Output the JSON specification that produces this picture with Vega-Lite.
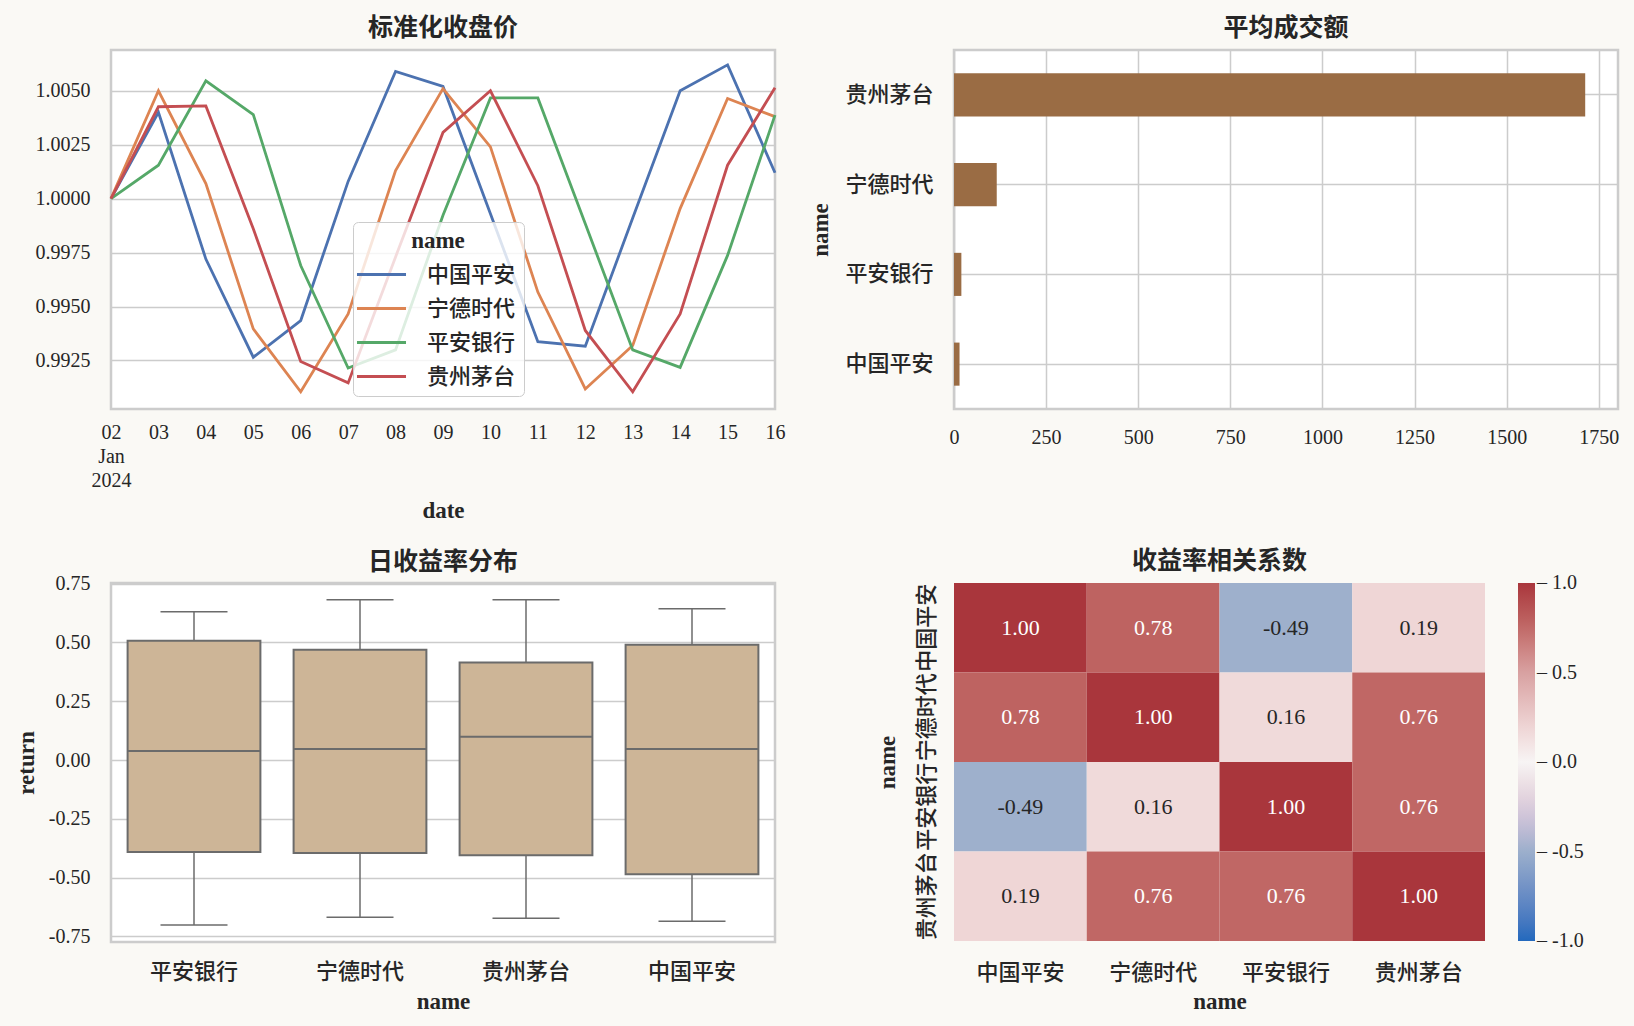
{
  "$schema": "https://vega.github.io/schema/vega-lite/v6.json",
  "background": "#FAF9F5",
  "padding": {"left": 13, "top": 14, "right": 17, "bottom": 13},
  "columns": 2,
  "bounds": "flush",
  "spacing": {"row": 174, "column": 179},
  "config": {
    "font": "'Liberation Serif', 'Noto Sans CJK SC', serif",
    "view": {"fill": "white", "stroke": "#cccccc", "strokeWidth": 2.5},
    "axis": {
      "domain": false,
      "ticks": false,
      "tickSize": 0,
      "grid": true,
      "gridColor": "#cccccc",
      "gridWidth": 1.5,
      "labelFontSize": 20,
      "labelFontWeight": 500,
      "labelColor": "#262626",
      "labelPadding": 21,
      "labelFlush": false,
      "labelAngle": 0,
      "titleFontSize": 23,
      "titleFontWeight": "bold",
      "titleColor": "#262626"
    },
    "title": {"fontSize": 25, "fontWeight": "bold", "color": "#262626", "offset": 9, "frame": "group"},
    "locale": {
      "number": {"decimal": ".", "thousands": ",", "grouping": [3], "currency": ["", ""], "minus": "-"}
    }
  },
  "datasets": {
    "close": [
      {"date": "2024-01-02", "name": "中国平安", "value": 1.0000},
      {"date": "2024-01-03", "name": "中国平安", "value": 1.0040},
      {"date": "2024-01-04", "name": "中国平安", "value": 0.9972},
      {"date": "2024-01-05", "name": "中国平安", "value": 0.99265},
      {"date": "2024-01-06", "name": "中国平安", "value": 0.99435},
      {"date": "2024-01-07", "name": "中国平安", "value": 1.0008},
      {"date": "2024-01-08", "name": "中国平安", "value": 1.0059},
      {"date": "2024-01-09", "name": "中国平安", "value": 1.0052},
      {"date": "2024-01-10", "name": "中国平安", "value": 0.9993},
      {"date": "2024-01-11", "name": "中国平安", "value": 0.99337},
      {"date": "2024-01-12", "name": "中国平安", "value": 0.99316},
      {"date": "2024-01-13", "name": "中国平安", "value": 0.9991},
      {"date": "2024-01-14", "name": "中国平安", "value": 1.0050},
      {"date": "2024-01-15", "name": "中国平安", "value": 1.0062},
      {"date": "2024-01-16", "name": "中国平安", "value": 1.0012},
      {"date": "2024-01-02", "name": "宁德时代", "value": 1.0000},
      {"date": "2024-01-03", "name": "宁德时代", "value": 1.0050},
      {"date": "2024-01-04", "name": "宁德时代", "value": 1.0007},
      {"date": "2024-01-05", "name": "宁德时代", "value": 0.99396},
      {"date": "2024-01-06", "name": "宁德时代", "value": 0.99105},
      {"date": "2024-01-07", "name": "宁德时代", "value": 0.99466},
      {"date": "2024-01-08", "name": "宁德时代", "value": 1.0013},
      {"date": "2024-01-09", "name": "宁德时代", "value": 1.0051},
      {"date": "2024-01-10", "name": "宁德时代", "value": 1.0024},
      {"date": "2024-01-11", "name": "宁德时代", "value": 0.99567},
      {"date": "2024-01-12", "name": "宁德时代", "value": 0.99118},
      {"date": "2024-01-13", "name": "宁德时代", "value": 0.99319},
      {"date": "2024-01-14", "name": "宁德时代", "value": 0.99954},
      {"date": "2024-01-15", "name": "宁德时代", "value": 1.00464},
      {"date": "2024-01-16", "name": "宁德时代", "value": 1.0038},
      {"date": "2024-01-02", "name": "平安银行", "value": 1.0000},
      {"date": "2024-01-03", "name": "平安银行", "value": 1.00155},
      {"date": "2024-01-04", "name": "平安银行", "value": 1.00546},
      {"date": "2024-01-05", "name": "平安银行", "value": 1.0039},
      {"date": "2024-01-06", "name": "平安银行", "value": 0.9969},
      {"date": "2024-01-07", "name": "平安银行", "value": 0.99215},
      {"date": "2024-01-08", "name": "平安银行", "value": 0.99299},
      {"date": "2024-01-09", "name": "平安银行", "value": 0.99923},
      {"date": "2024-01-10", "name": "平安银行", "value": 1.00467},
      {"date": "2024-01-11", "name": "平安银行", "value": 1.00467},
      {"date": "2024-01-12", "name": "平安银行", "value": 0.99884},
      {"date": "2024-01-13", "name": "平安银行", "value": 0.99299},
      {"date": "2024-01-14", "name": "平安银行", "value": 0.99218},
      {"date": "2024-01-15", "name": "平安银行", "value": 0.99737},
      {"date": "2024-01-16", "name": "平安银行", "value": 1.00387},
      {"date": "2024-01-02", "name": "贵州茅台", "value": 1.0000},
      {"date": "2024-01-03", "name": "贵州茅台", "value": 1.00426},
      {"date": "2024-01-04", "name": "贵州茅台", "value": 1.0043},
      {"date": "2024-01-05", "name": "贵州茅台", "value": 0.9986},
      {"date": "2024-01-06", "name": "贵州茅台", "value": 0.99245},
      {"date": "2024-01-07", "name": "贵州茅台", "value": 0.99146},
      {"date": "2024-01-08", "name": "贵州茅台", "value": 0.9973},
      {"date": "2024-01-09", "name": "贵州茅台", "value": 1.00307},
      {"date": "2024-01-10", "name": "贵州茅台", "value": 1.0050},
      {"date": "2024-01-11", "name": "贵州茅台", "value": 1.0006},
      {"date": "2024-01-12", "name": "贵州茅台", "value": 0.99389},
      {"date": "2024-01-13", "name": "贵州茅台", "value": 0.99105},
      {"date": "2024-01-14", "name": "贵州茅台", "value": 0.99466},
      {"date": "2024-01-15", "name": "贵州茅台", "value": 1.00155},
      {"date": "2024-01-16", "name": "贵州茅台", "value": 1.00514}
    ],
    "amount": [
      {"name": "贵州茅台", "amount": 1713},
      {"name": "宁德时代", "amount": 116},
      {"name": "平安银行", "amount": 20},
      {"name": "中国平安", "amount": 15}
    ],
    "ret": [
      {"name": "平安银行", "lower": -0.702, "q1": -0.391, "median": 0.038, "q3": 0.507, "upper": 0.631},
      {"name": "宁德时代", "lower": -0.669, "q1": -0.395, "median": 0.047, "q3": 0.469, "upper": 0.682},
      {"name": "贵州茅台", "lower": -0.673, "q1": -0.405, "median": 0.099, "q3": 0.415, "upper": 0.682},
      {"name": "中国平安", "lower": -0.686, "q1": -0.486, "median": 0.047, "q3": 0.490, "upper": 0.643}
    ],
    "corr": [
      {"row": "中国平安", "col": "中国平安", "r": 1.00},
      {"row": "中国平安", "col": "宁德时代", "r": 0.78},
      {"row": "中国平安", "col": "平安银行", "r": -0.49},
      {"row": "中国平安", "col": "贵州茅台", "r": 0.19},
      {"row": "宁德时代", "col": "中国平安", "r": 0.78},
      {"row": "宁德时代", "col": "宁德时代", "r": 1.00},
      {"row": "宁德时代", "col": "平安银行", "r": 0.16},
      {"row": "宁德时代", "col": "贵州茅台", "r": 0.76},
      {"row": "平安银行", "col": "中国平安", "r": -0.49},
      {"row": "平安银行", "col": "宁德时代", "r": 0.16},
      {"row": "平安银行", "col": "平安银行", "r": 1.00},
      {"row": "平安银行", "col": "贵州茅台", "r": 0.76},
      {"row": "贵州茅台", "col": "中国平安", "r": 0.19},
      {"row": "贵州茅台", "col": "宁德时代", "r": 0.76},
      {"row": "贵州茅台", "col": "平安银行", "r": 0.76},
      {"row": "贵州茅台", "col": "贵州茅台", "r": 1.00}
    ]
  },
  "concat": [
    {
      "title": "标准化收盘价",
      "width": 664,
      "height": 359,
      "data": {"name": "close"},
      "mark": {"type": "line", "strokeWidth": 2.8},
      "encoding": {
        "x": {
          "field": "date",
          "type": "temporal",
          "scale": {"type": "utc", "nice": false},
          "axis": {
            "title": "date",
            "grid": false,
            "tickCount": {"interval": "day", "step": 1},
            "labelExpr": "datum.index == 0 ? ['02', 'Jan', '2024'] : utcFormat(datum.value, '%d')",
            "labelPadding": 13,
            "labelLineHeight": 24,
            "titleY": 108,
            "titleBaseline": "alphabetic"
          }
        },
        "y": {
          "field": "value",
          "type": "quantitative",
          "scale": {"domain": [0.99025, 1.00689], "nice": false, "zero": false},
          "axis": {
            "title": null,
            "values": [0.9925, 0.995, 0.9975, 1.0, 1.0025, 1.005],
            "format": ".4f"
          }
        },
        "color": {
          "field": "name",
          "type": "nominal",
          "scale": {
            "domain": ["中国平安", "宁德时代", "平安银行", "贵州茅台"],
            "range": ["#4C72B0", "#DD8452", "#55A868", "#C44E52"]
          },
          "legend": {
            "orient": "none",
            "legendX": 242,
            "legendY": 172,
            "title": "name",
            "titleAnchor": "middle",
            "titleFontSize": 23,
            "titleFontWeight": "bold",
            "titleColor": "#262626",
            "titlePadding": 1,
            "labelFontSize": 22,
            "labelFontWeight": 500,
            "labelColor": "#262626",
            "labelOffset": 25,
            "symbolType": "M-1.29,0H1.29",
            "symbolSize": 1444,
            "symbolStrokeWidth": 3,
            "fillColor": "rgba(255,255,255,0.8)",
            "strokeColor": "#cccccc",
            "cornerRadius": 5,
            "padding": 8
          }
        }
      }
    },
    {
      "title": "平均成交额",
      "width": 664,
      "height": 359,
      "data": {"name": "amount"},
      "mark": {"type": "bar", "color": "#9A6C44"},
      "encoding": {
        "y": {
          "field": "name",
          "type": "nominal",
          "sort": ["贵州茅台", "宁德时代", "平安银行", "中国平安"],
          "scale": {"paddingInner": 0.52, "paddingOuter": 0.26},
          "axis": {
            "title": "name",
            "labelFontSize": 22,
            "titleX": -127,
            "titleBaseline": "alphabetic"
          }
        },
        "x": {
          "field": "amount",
          "type": "quantitative",
          "scale": {"domain": [0, 1802], "nice": false},
          "axis": {
            "title": null,
            "values": [0, 250, 500, 750, 1000, 1250, 1500, 1750],
            "format": "d",
            "labelPadding": 18
          }
        }
      }
    },
    {
      "title": {"text": "日收益率分布", "offset": -1},
      "width": 664,
      "height": 359,
      "data": {"name": "ret"},
      "encoding": {
        "x": {
          "field": "name",
          "type": "nominal",
          "sort": ["平安银行", "宁德时代", "贵州茅台", "中国平安"],
          "scale": {"paddingInner": 0, "paddingOuter": 0},
          "axis": {
            "title": "name",
            "grid": false,
            "labelFontSize": 22,
            "labelPadding": 19,
            "titleY": 66,
            "titleBaseline": "alphabetic"
          }
        }
      },
      "layer": [
        {
          "mark": {"type": "rule", "color": "#6B6B6B", "strokeWidth": 1.5},
          "encoding": {
            "y": {
              "field": "lower",
              "type": "quantitative",
              "title": "return",
              "scale": {"domain": [-0.774, 0.753], "nice": false, "zero": false},
              "axis": {
                "values": [-0.75, -0.5, -0.25, 0, 0.25, 0.5, 0.75],
                "format": ".2f",
                "titleX": -78,
                "titleBaseline": "alphabetic"
              }
            },
            "y2": {"field": "upper"}
          }
        },
        {
          "mark": {"type": "bar", "width": {"band": 0.8}, "fill": "#CDB597", "stroke": "#6B6B6B", "strokeWidth": 2},
          "encoding": {
            "y": {"field": "q1", "type": "quantitative", "title": "return"},
            "y2": {"field": "q3"}
          }
        },
        {
          "mark": {"type": "tick", "size": 133, "thickness": 2, "color": "#6B6B6B", "opacity": 1},
          "encoding": {
            "y": {"field": "median", "type": "quantitative", "title": "return"}
          }
        },
        {
          "mark": {"type": "tick", "size": 67, "thickness": 1.5, "color": "#6B6B6B", "opacity": 1},
          "encoding": {
            "y": {"field": "lower", "type": "quantitative", "title": "return"}
          }
        },
        {
          "mark": {"type": "tick", "size": 67, "thickness": 1.5, "color": "#6B6B6B", "opacity": 1},
          "encoding": {
            "y": {"field": "upper", "type": "quantitative", "title": "return"}
          }
        }
      ]
    },
    {
      "title": "收益率相关系数",
      "width": 531,
      "height": 358,
      "view": {"stroke": null, "fill": null},
      "data": {"name": "corr"},
      "encoding": {
        "x": {
          "field": "col",
          "type": "nominal",
          "sort": ["中国平安", "宁德时代", "平安银行", "贵州茅台"],
          "scale": {"paddingInner": 0, "paddingOuter": 0},
          "axis": {
            "title": "name",
            "grid": false,
            "labelFontSize": 22,
            "labelPadding": 21,
            "titleY": 67,
            "titleBaseline": "alphabetic"
          }
        },
        "y": {
          "field": "row",
          "type": "nominal",
          "sort": ["中国平安", "宁德时代", "平安银行", "贵州茅台"],
          "scale": {"paddingInner": 0, "paddingOuter": 0},
          "axis": {
            "title": "name",
            "grid": false,
            "labelFontSize": 22,
            "labelAngle": 270,
            "labelAlign": "center",
            "labelBaseline": "bottom",
            "labelPadding": 16,
            "titleX": -60,
            "titleBaseline": "alphabetic"
          }
        }
      },
      "layer": [
        {
          "mark": "rect",
          "encoding": {
            "color": {
              "field": "r",
              "type": "quantitative",
              "scale": {
                "domain": [-1, -0.49, 0, 0.16, 0.19, 0.5, 0.77, 1],
                "range": ["#2369BD", "#9EB0CC", "#F7F4F4", "#F0DADA", "#EFD6D6", "#D8A1A1", "#BF6563", "#A9363C"]
              },
              "legend": {
                "orient": "none",
                "legendX": 564,
                "legendY": 0,
                "title": null,
                "direction": "vertical",
                "gradientLength": 358,
                "gradientThickness": 17,
                "gradientStrokeWidth": 0,
                "values": [-1, -0.5, 0, 0.5, 1],
                "labelExpr": "'– ' + format(datum.value, '.1f')",
                "labelFontSize": 20,
                "labelFontWeight": 500,
                "labelColor": "#262626",
                "labelOffset": 2,
                "encode": {
                  "labels": {"update": {"baseline": {"value": "middle"}}}
                }
              }
            }
          }
        },
        {
          "mark": {"type": "text", "fontSize": 22},
          "encoding": {
            "text": {"field": "r", "type": "quantitative", "format": ".2f"},
            "color": {
              "condition": {"test": "datum.r > 0.5", "value": "white"},
              "value": "#262626"
            }
          }
        }
      ]
    }
  ]
}
